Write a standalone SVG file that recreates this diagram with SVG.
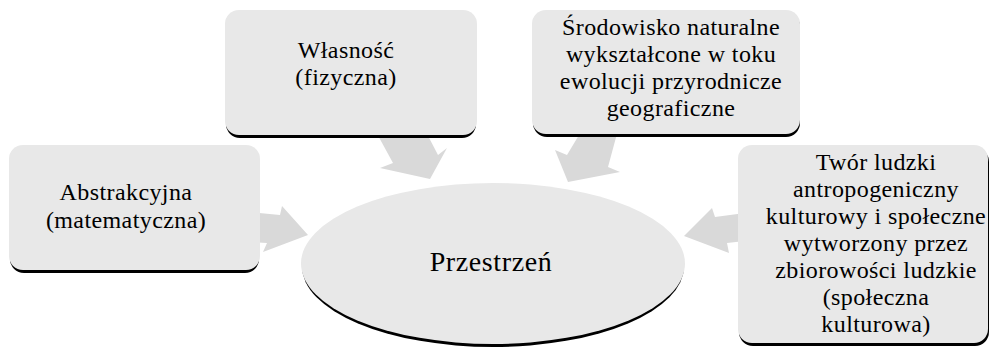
<svg xmlns="http://www.w3.org/2000/svg" width="990" height="348" viewBox="0 0 990 348">
  <style>
    .box { fill: #e8e8e8; }
    .shadow { fill: #000000; }
    .arrow { fill: #d9d9d9; }
    .t { font-family: "Liberation Serif", "Times New Roman", serif; font-size: 24px; letter-spacing: 0.4px; fill: #000000; text-anchor: middle; }
    .tc { font-family: "Liberation Serif", "Times New Roman", serif; font-size: 28px; letter-spacing: 0.6px; fill: #000000; text-anchor: middle; }
  </style>
  <rect width="990" height="348" fill="#ffffff"/>
  <g id="connectors">
    <polygon class="arrow" points="250,212 280,215 282,206 308,235 263,252 267,243 250,242"/>
    <polygon class="arrow" points="375,130 425,130 438,155 447,148 430,179 380,168 393,163"/>
    <polygon class="arrow" points="582,130 618,130 608,167 620,172 568,182 555,150 567,155"/>
    <polygon class="arrow" points="745,213 715,217 712,208 684,236 729,253 727,243 745,241"/>
  </g>
  <g id="node-abstrakcyjna">
    <rect class="shadow" x="10" y="148" width="249" height="125" rx="14"/>
    <rect class="box" x="9" y="145" width="251" height="125" rx="14"/>
    <text class="t" x="126" y="200">Abstrakcyjna</text>
    <text class="t" x="126" y="228">(matematyczna)</text>
  </g>
  <g id="node-wlasnosc">
    <rect class="shadow" x="226" y="13" width="250" height="125" rx="14"/>
    <rect class="box" x="225" y="10" width="252" height="125" rx="14"/>
    <text class="t" x="346" y="58">Własność</text>
    <text class="t" x="346" y="85">(fizyczna)</text>
  </g>
  <g id="node-srodowisko">
    <rect class="shadow" x="533" y="13" width="267" height="124" rx="14"/>
    <rect class="box" x="532" y="10" width="268" height="124" rx="14"/>
    <text class="t" x="671" y="35">Środowisko naturalne</text>
    <text class="t" x="671" y="62">wykształcone w toku</text>
    <text class="t" x="671" y="89">ewolucji przyrodnicze</text>
    <text class="t" x="671" y="116">geograficzne</text>
  </g>
  <g id="node-twor">
    <rect class="shadow" x="739" y="148" width="250" height="198" rx="14"/>
    <rect class="box" x="738" y="145" width="250" height="198" rx="14"/>
    <text class="t" x="876" y="170">Twór ludzki</text>
    <text class="t" x="876" y="197">antropogeniczny</text>
    <text class="t" x="876" y="224">kulturowy i społeczne</text>
    <text class="t" x="876" y="251">wytworzony przez</text>
    <text class="t" x="876" y="278">zbiorowości ludzkie</text>
    <text class="t" x="876" y="305">(społeczna</text>
    <text class="t" x="876" y="332">kulturowa)</text>
  </g>
  <g id="node-przestrzen">
    <ellipse class="shadow" cx="493" cy="266.5" rx="191" ry="80.5"/>
    <ellipse class="box" cx="493" cy="263.5" rx="192" ry="80.5"/>
    <text class="tc" x="491" y="271">Przestrzeń</text>
  </g>
</svg>
